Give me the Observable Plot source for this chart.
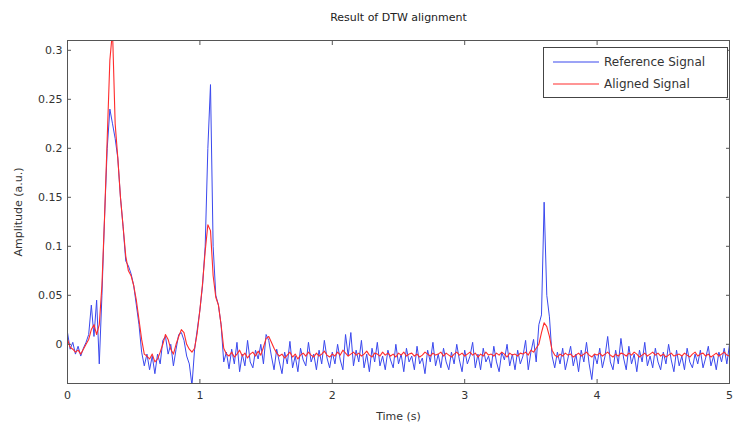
<!DOCTYPE html>
<html><head><meta charset="utf-8">
<script src="https://cdn.jsdelivr.net/npm/d3@7"></script>
<script src="https://cdn.jsdelivr.net/npm/@observablehq/plot@0.6"></script>
<style>body{margin:0;background:#fff;}</style>
</head><body><div id="chart"></div>
<script>
const title = "Result of DTW alignment";
const xLabel = "Time (s)";
const yLabel = "Amplitude (a.u.)";
const seriesNames = ["Reference Signal", "Aligned Signal"];
const seriesColors = ["#3a48ee", "#ff2c2c"];
const sampleStep = 0.02; // seconds between samples
const xTicks = [0, 1, 2, 3, 4, 5];
const yTicks = [0, 0.05, 0.1, 0.15, 0.2, 0.25, 0.3];
const yTickLabels = ["0", "0.05", "0.1", "0.15", "0.2", "0.25", "0.3"];

const reference = [
 0.012,-0.005,0.002,-0.010,-0.002,-0.012,-0.004,0.002,0.010,0.040,
 0.008,0.045,-0.020,0.050,0.130,0.200,0.240,0.225,0.210,0.190,
 0.150,0.120,0.085,0.080,0.072,0.060,0.040,0.020,-0.008,-0.022,
 -0.010,-0.026,-0.012,-0.030,-0.010,-0.020,0.004,0.008,-0.010,0.000,
 -0.022,-0.005,0.010,0.012,0.004,-0.012,-0.020,-0.042,-0.005,0.015,
 0.035,0.060,0.100,0.200,0.265,0.100,0.050,0.040,0.020,-0.018,
 -0.008,-0.025,-0.005,-0.020,0.002,-0.028,-0.010,-0.022,0.004,-0.018,
 -0.024,-0.006,-0.015,0.000,-0.020,0.010,0.004,-0.012,-0.026,-0.005,
 -0.018,-0.030,-0.008,-0.020,0.003,-0.024,-0.012,-0.028,-0.004,-0.016,
 -0.022,0.002,-0.018,-0.010,-0.026,-0.006,-0.020,0.004,-0.014,-0.024,
 -0.008,-0.020,0.000,-0.016,-0.026,0.010,-0.012,0.012,-0.022,-0.006,
 -0.018,0.004,-0.024,-0.010,-0.028,-0.004,-0.018,0.002,-0.022,-0.012,
 -0.026,-0.006,-0.016,-0.024,0.000,-0.020,-0.010,-0.028,-0.004,-0.018,
 -0.012,-0.026,-0.002,-0.020,-0.014,-0.030,-0.006,-0.018,0.002,-0.022,
 -0.010,-0.024,-0.004,-0.018,-0.026,-0.008,-0.020,0.000,-0.016,-0.028,
 -0.006,-0.020,-0.012,0.002,-0.024,-0.010,-0.026,-0.004,-0.018,-0.012,
 -0.024,-0.002,-0.018,-0.028,-0.008,-0.016,0.000,-0.022,-0.010,-0.026,
 -0.006,-0.020,-0.012,0.004,-0.026,-0.008,0.005,-0.018,0.020,0.030,
 0.145,0.050,0.028,-0.012,-0.024,-0.008,-0.020,-0.004,-0.026,-0.014,
 -0.002,-0.022,-0.010,-0.028,-0.006,-0.018,0.002,-0.020,-0.036,-0.010,
 -0.020,-0.004,-0.024,-0.012,0.008,-0.018,-0.026,-0.006,-0.020,0.006,
 -0.014,-0.026,-0.002,-0.020,-0.010,-0.028,-0.006,-0.018,0.002,-0.022,
 -0.012,-0.024,-0.004,-0.018,-0.026,-0.008,-0.020,0.000,-0.016,-0.028,
 -0.006,-0.022,-0.012,-0.026,-0.004,-0.018,-0.024,-0.010,-0.020,-0.006,
 -0.024,-0.014,-0.002,-0.022,-0.012,-0.026,-0.008,-0.018,-0.004,-0.020,
 0.000
];

const aligned = [
 0.005,-0.003,-0.005,-0.008,-0.006,-0.010,-0.005,0.000,0.005,0.015,
 0.020,0.010,0.020,0.060,0.130,0.210,0.290,0.320,0.225,0.190,
 0.150,0.120,0.090,0.075,0.070,0.060,0.045,0.025,0.005,-0.010,
 -0.012,-0.015,-0.010,-0.018,-0.015,-0.008,0.000,0.010,0.005,-0.005,
 -0.010,0.000,0.008,0.015,0.012,0.000,-0.005,-0.008,-0.004,0.012,
 0.035,0.062,0.095,0.122,0.116,0.070,0.048,0.040,0.020,-0.004,
 -0.010,-0.012,-0.008,-0.013,-0.010,-0.006,-0.012,-0.009,-0.014,-0.010,
 -0.008,-0.012,-0.007,-0.011,-0.003,0.006,0.008,0.002,-0.004,-0.009,
 -0.012,-0.010,-0.014,-0.011,-0.008,-0.013,-0.010,-0.015,-0.011,-0.009,
 -0.012,-0.008,-0.011,-0.013,-0.009,-0.012,-0.010,-0.007,-0.011,-0.013,
 -0.010,-0.012,-0.008,-0.011,-0.006,-0.009,-0.012,-0.010,-0.008,-0.011,
 -0.009,-0.012,-0.010,-0.007,-0.011,-0.013,-0.009,-0.010,-0.012,-0.008,
 -0.011,-0.009,-0.012,-0.010,-0.013,-0.009,-0.011,-0.008,-0.012,-0.010,
 -0.009,-0.012,-0.010,-0.013,-0.011,-0.008,-0.010,-0.012,-0.009,-0.011,
 -0.010,-0.008,-0.012,-0.009,-0.011,-0.013,-0.010,-0.008,-0.011,-0.009,
 -0.012,-0.010,-0.008,-0.011,-0.009,-0.013,-0.010,-0.012,-0.008,-0.011,
 -0.010,-0.012,-0.009,-0.011,-0.008,-0.010,-0.013,-0.009,-0.011,-0.010,
 -0.012,-0.009,-0.010,-0.008,-0.011,-0.006,-0.008,-0.004,0.000,0.012,
 0.022,0.018,0.008,-0.006,-0.011,-0.013,-0.010,-0.012,-0.009,-0.011,
 -0.010,-0.013,-0.011,-0.009,-0.012,-0.010,-0.008,-0.011,-0.013,-0.010,
 -0.011,-0.009,-0.012,-0.010,-0.008,-0.011,-0.013,-0.010,-0.012,-0.009,
 -0.010,-0.012,-0.009,-0.011,-0.008,-0.010,-0.013,-0.011,-0.009,-0.012,
 -0.010,-0.008,-0.011,-0.009,-0.012,-0.010,-0.013,-0.011,-0.009,-0.012,
 -0.011,-0.010,-0.012,-0.009,-0.011,-0.013,-0.010,-0.008,-0.012,-0.010,
 -0.009,-0.012,-0.010,-0.013,-0.011,-0.009,-0.012,-0.010,-0.008,-0.011,
 -0.012
];

const toRows = arr => arr.map((v, i) => ({t: +(i * sampleStep).toFixed(2), v}));
const refRows = toRows(reference);
const aliRows = toRows(aligned);
const fmtY = d => yTickLabels[yTicks.indexOf(d)] ?? String(d);
const FONT = "'DejaVu Sans', Verdana, sans-serif";

const plot = Plot.plot({
  width: 733, height: 423,
  marginLeft: 67, marginRight: 4, marginTop: 40, marginBottom: 40,
  style: {fontFamily: FONT, fontSize: "11px", color: "#333", background: "#fff"},
  x: {domain: [0, 5]},
  y: {domain: [-0.04, 0.31]},
  marks: [
    Plot.line(refRows, {x: "t", y: "v", stroke: seriesColors[0], strokeWidth: 1, clip: true}),
    Plot.line(aliRows, {x: "t", y: "v", stroke: seriesColors[1], strokeWidth: 1.1, clip: true}),
    Plot.frame({stroke: "#555"}),
    Plot.axisX({ticks: xTicks, tickSize: -4, tickPadding: 12, tickFormat: d => String(d), label: xLabel, labelAnchor: "center", labelArrow: "none", labelOffset: 36, stroke: "#555"}),
    Plot.axisX({anchor: "top", ticks: xTicks, tickSize: -4, tickFormat: () => "", label: null, stroke: "#555"}),
    Plot.axisY({ticks: yTicks, tickSize: -4, tickPadding: 9, tickFormat: fmtY, label: yLabel, labelAnchor: "center", labelArrow: "none", labelOffset: 53, stroke: "#555"}),
    Plot.axisY({anchor: "right", ticks: yTicks, tickSize: -4, tickFormat: () => "", label: null, stroke: "#555"}),
    Plot.text([title], {frameAnchor: "top", dy: -27, fontSize: 11, fill: "#222"})
  ]
});

// Legend (MATLAB-style box inside the axes, top-right)
const svg = d3.select(plot);
const lg = svg.append("g")
  .attr("font-family", FONT)
  .attr("font-size", 12)
  .attr("text-anchor", "start");
lg.append("rect").attr("x", 543.5).attr("y", 47.5).attr("width", 184).attr("height", 50)
  .attr("fill", "#fff").attr("stroke", "#444");
seriesNames.forEach((name, i) => {
  const y = 62 + i * 22;
  lg.append("line").attr("x1", 553).attr("x2", 599).attr("y1", y).attr("y2", y)
    .attr("stroke", seriesColors[i]).attr("stroke-width", 1.2);
  lg.append("text").attr("x", 604).attr("y", y).attr("dy", "0.35em")
    .attr("text-anchor", "start").attr("fill", "#333").text(name);
});

document.getElementById("chart").appendChild(plot);
</script>
</body></html>
